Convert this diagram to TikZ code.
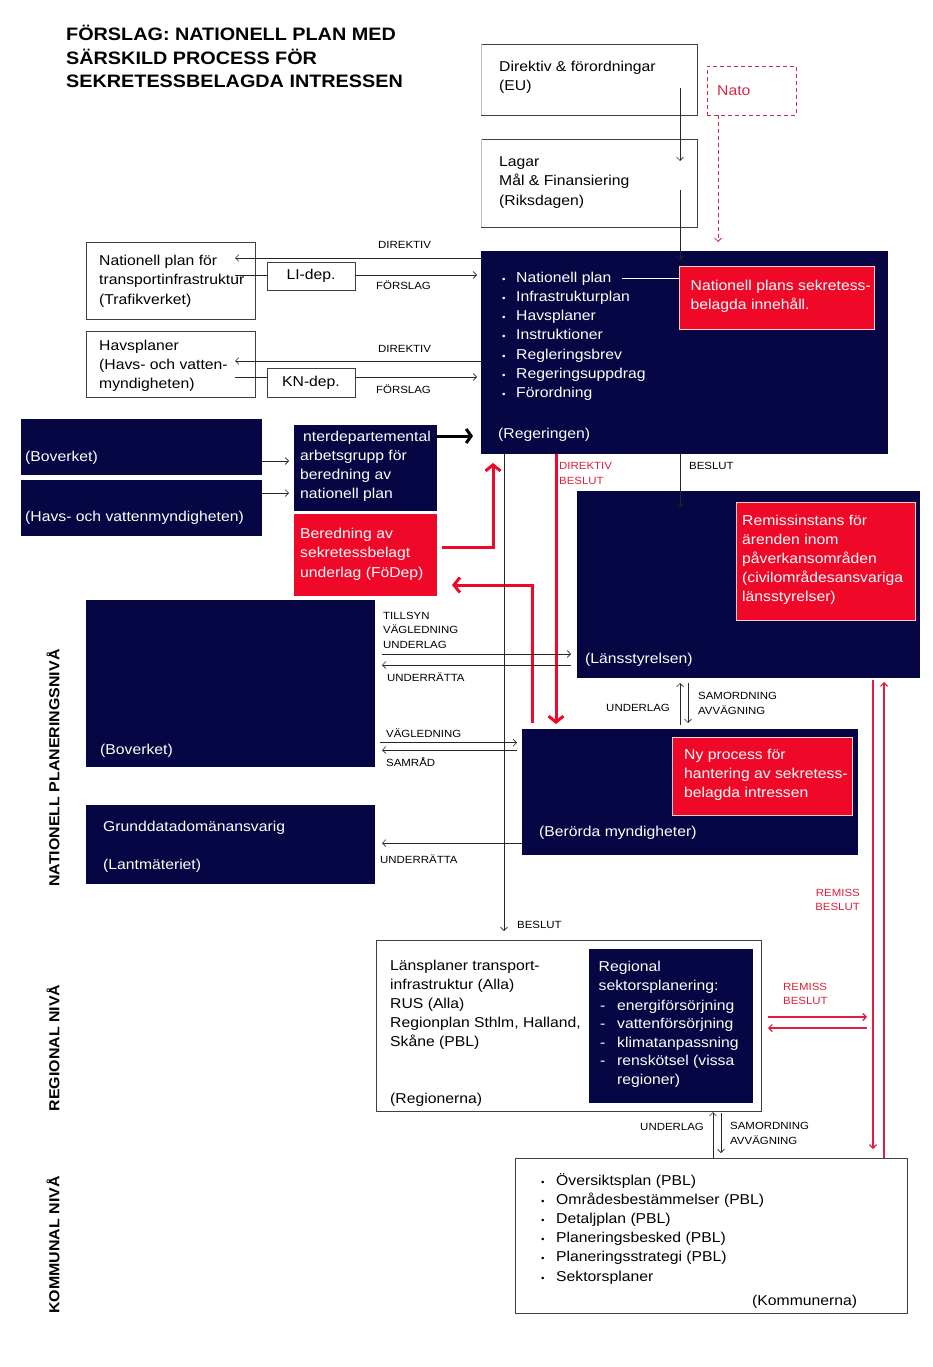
\documentclass[tikz,border=0pt]{standalone}
\usepackage{fontspec}
\setmainfont{Liberation Sans}[FakeStretch=1.1]
\usetikzlibrary{arrows.meta}

\definecolor{navy}{RGB}{6,6,68}
\definecolor{boxred}{RGB}{240,8,40}
\definecolor{linered}{RGB}{225,30,60}
\definecolor{natored}{RGB}{215,40,70}

\tikzset{
  box/.style={anchor=north west, inner sep=0pt, outer sep=0pt},
  navybox/.style={box, fill=navy},
  redbox/.style={box, fill=boxred, draw=red!20!white, line width=0.8pt},
  whitebox/.style={box, draw=black!75, line width=0.8pt},
  txt/.style={anchor=base west, inner sep=0pt, font=\fontsize{14.3}{19}\selectfont},
  wtxt/.style={txt, text=white},
  bul/.style={anchor=base west, inner sep=0pt, font=\fontsize{9}{10}\selectfont},
  lbl/.style={anchor=base west, inner sep=0pt, font=\fontsize{10.4}{12}\selectfont},
  rlbl/.style={lbl, text=linered},
  level/.style={rotate=90, inner sep=0pt, font=\bfseries\fontsize{14.5}{16}\selectfont},
  arr/.style={draw=black!85, line width=0.6pt, -{Straight Barb[length=3.5pt,width=7pt]}},
  thickarr/.style={draw=black, line width=3pt, -{Straight Barb[length=5pt,width=14pt]}},
  redarr/.style={draw=linered, line width=1.2pt, -{Straight Barb[length=3.5pt,width=7pt]}},
  redthick/.style={draw=boxred, line width=3pt, -{Straight Barb[length=6pt,width=15pt]}}
}

\begin{document}
\begin{tikzpicture}[x=1pt,y=-1pt]
\useasboundingbox (0,0) rectangle (932,1367);

% title and levels
\foreach \t [count=\i from 0] in {FÖRSLAG: NATIONELL PLAN MED, SÄRSKILD PROCESS FÖR, SEKRETESSBELAGDA INTRESSEN}
  \node[anchor=base west, inner sep=0pt, font=\bfseries\fontsize{18}{23}\selectfont] (title-\i) at (66,{41+23.5*\i}) {\t};
\node[level] (lev-nat) at (53,768) {NATIONELL PLANERINGSNIVÅ};
\node[level] (lev-reg) at (53,1048) {REGIONAL NIVÅ};
\node[level] (lev-kom) at (53,1245) {KOMMUNAL NIVÅ};

% EU, Nato, Riksdagen
\node[box, minimum width=216pt, minimum height=71pt] (eu) at (481,44) {};
\draw[black!75, line width=0.8pt] (eu.north west) -- (eu.north east) -- (eu.south east) -- (eu.south west);
\draw[black!25, line width=0.8pt] (eu.north west) -- (eu.south west);
\node[txt] (eu-1) at (499,71.5) {Direktiv \& förordningar};
\node[txt] (eu-2) at (499,91) {(EU)};

\node[box, draw=natored, dash pattern=on 4pt off 3pt, line width=0.8pt,
  minimum width=89pt, minimum height=49pt] (nato) at (707,66) {};
\node[txt, text=natored] (nato-t) at (717,95.5) {Nato};

\node[box, minimum width=216pt, minimum height=88pt] (riks) at (481,139) {};
\draw[black!75, line width=0.8pt] (riks.north west) -- (riks.north east) -- (riks.south east) -- (riks.south west);
\draw[black!25, line width=0.8pt] (riks.north west) -- (riks.south west);
\foreach \t [count=\i from 0] in {Lagar, Mål \& Finansiering, {(Riksdagen)}}
  \node[txt] (riks-\i) at (499,{166.5+19.3*\i}) {\t};

% Trafikverket and Havs- och vattenmyndigheten
\node[whitebox, minimum width=169pt, minimum height=77pt] (trv) at (86,242) {};
\foreach \t [count=\i from 0] in {Nationell plan för, transportinfrastruktur, {(Trafikverket)}}
  \node[txt] (trv-\i) at (99,{265.5+19.3*\i}) {\t};
\node[whitebox, fill=white, minimum width=88pt, minimum height=28pt, font=\fontsize{14.3}{19}\selectfont] (lidep) at (267,262) {LI-dep.};

\node[whitebox, minimum width=169pt, minimum height=66pt] (hav) at (86,331) {};
\foreach \t [count=\i from 0] in {Havsplaner, {(Havs- och vatten-}, {myndigheten)}}
  \node[txt] (hav-\i) at (99,{350+19.3*\i}) {\t};
\node[whitebox, fill=white, minimum width=88pt, minimum height=29pt, font=\fontsize{14.3}{19}\selectfont] (kndep) at (267,368) {KN-dep.};

% Regeringen
\node[navybox, minimum width=407pt, minimum height=203pt] (reg) at (481,251) {};
\foreach \t [count=\i from 0] in {Nationell plan, Infrastrukturplan, Havsplaner, Instruktioner, Regleringsbrev, Regeringsuppdrag, Förordning} {
  \node[bul, text=white] (regb-\i) at (502,{282.3+19.2*\i}) {\textbullet};
  \node[wtxt] (reg-\i) at (516,{282.3+19.2*\i}) {\t};
}
\node[wtxt] (reg-name) at (498,438) {(Regeringen)};
\node[redbox, minimum width=195pt, minimum height=63pt] (regred) at (679,266) {};
\node[wtxt] (regred-1) at (690.5,290) {Nationell plans sekretess-};
\node[wtxt] (regred-2) at (690.5,309) {belagda innehåll.};

% Boverket, HaV, arbetsgrupp
\node[navybox, minimum width=241pt, minimum height=56pt] (bov1) at (21,419) {};
\node[wtxt] (bov1-t) at (25,461) {(Boverket)};
\node[navybox, minimum width=241pt, minimum height=56pt] (hav2) at (21,480) {};
\node[wtxt] (hav2-t) at (25,521) {(Havs- och vattenmyndigheten)};

\node[navybox, minimum width=143pt, minimum height=86pt] (idep) at (294,425) {};
\node[wtxt] (idep-0) at (303,441) {nterdepartemental};
\foreach \t [count=\i from 1] in {arbetsgrupp för, beredning av, nationell plan}
  \node[wtxt] (idep-\i) at (300,{441+19.2*\i}) {\t};
\node[box, fill=boxred, minimum width=143pt, minimum height=82pt] (fodep) at (294,514) {};
\foreach \t [count=\i from 0] in {Beredning av, sekretessbelagt, {underlag (FöDep)}}
  \node[wtxt] (fodep-\i) at (300,{538+19.5*\i}) {\t};

% Länsstyrelsen
\node[navybox, minimum width=343pt, minimum height=187pt] (lst) at (577,491) {};
\node[redbox, minimum width=179pt, minimum height=118pt] (lstred) at (736,502) {};
\foreach \t [count=\i from 0] in {Remissinstans för, ärenden inom, påverkansområden, {(civilområdesansvariga}, {länsstyrelser)}}
  \node[wtxt] (lstred-\i) at (742,{525+19.2*\i}) {\t};
\node[wtxt] (lst-name) at (585,663) {(Länsstyrelsen)};

% Boverket, berörda myndigheter, Lantmäteriet
\node[navybox, minimum width=289pt, minimum height=167pt] (bov2) at (86,600) {};
\node[wtxt] (bov2-t) at (100,754) {(Boverket)};
\node[navybox, minimum width=336pt, minimum height=126pt] (ber) at (522,729) {};
\node[redbox, minimum width=180pt, minimum height=78pt] (berred) at (672,737) {};
\foreach \t [count=\i from 0] in {Ny process för, hantering av sekretess-, belagda intressen}
  \node[wtxt] (berred-\i) at (684,{759.3+19.2*\i}) {\t};
\node[wtxt] (ber-name) at (539,836.7) {(Berörda myndigheter)};
\node[navybox, minimum width=289pt, minimum height=79pt] (lm) at (86,805) {};
\node[wtxt] (lm-1) at (103,831) {Grunddatadomänansvarig};
\node[wtxt] (lm-2) at (103,869) {(Lantmäteriet)};

% Regionerna
\node[whitebox, minimum width=385pt, minimum height=171pt] (regn) at (376,940) {};
\foreach \t [count=\i from 0] in {Länsplaner transport-, infrastruktur (Alla), RUS (Alla), {Regionplan Sthlm, Halland,}, Skåne (PBL)}
  \node[txt] (regn-\i) at (390,{970+19.1*\i}) {\t};
\node[txt] (regn-name) at (390,1103) {(Regionerna)};
\node[navybox, minimum width=164pt, minimum height=154pt] (sekt) at (589,949) {};
\node[wtxt] (sekt-1) at (598.5,971.5) {Regional};
\node[wtxt] (sekt-2) at (598.5,990.5) {sektorsplanering:};
\foreach \t [count=\i from 0] in {energiförsörjning, vattenförsörjning, klimatanpassning, renskötsel (vissa} {
  \node[wtxt] (sektd-\i) at (600,{1010+18.5*\i}) {-};
  \node[wtxt] (sekt-\i) at (617,{1010+18.5*\i}) {\t};
}
\node[wtxt] (sekt-5) at (617,1084) {regioner)};

% Kommunerna
\node[whitebox, minimum width=392pt, minimum height=155pt] (kom) at (515,1158) {};
\foreach \t [count=\i from 0] in {Översiktsplan (PBL), Områdesbestämmelser (PBL), Detaljplan (PBL), Planeringsbesked (PBL), Planeringsstrategi (PBL), Sektorsplaner} {
  \node[bul] (komb-\i) at (541,{1185+19.2*\i}) {\textbullet};
  \node[txt] (kom-\i) at (556,{1185+19.2*\i}) {\t};
}
\node[txt] (kom-name) at (752,1305) {(Kommunerna)};

% arrows at the top
\coordinate (nato-end) at (718,242);
\draw[draw=natored, line width=0.8pt, dash pattern=on 4pt off 3pt, -{Straight Barb[length=3.5pt,width=7pt]}]
  (nato-end |- nato.south) -- (nato-end);
\coordinate (eu-out) at (680,88);
\coordinate (riks-in) at (680,161);
\draw[arr] (eu-out) -- (riks-in);
\coordinate (riks-out) at (680,190);
\draw[arr] (riks-out) -- ([yshift=-9pt]riks-out |- reg.north);
\coordinate (np-end) at (622,278);
\draw[white, line width=0.8pt] (np-end) -- (np-end -| regred.west);

% Regeringen to Trafikverket and HaV
\coordinate (trv-dir) at (235,258);
\coordinate (trv-fors) at (235,275);
\draw[arr] (trv-dir -| reg.west) -- (trv-dir);
\draw[black!85, line width=0.6pt] (trv-fors) -- (trv-fors -| lidep.west);
\draw[arr] (trv-fors -| lidep.east) -- ([xshift=-4pt]trv-fors -| reg.west);
\node[lbl] (dir-1) at (378,248) {DIREKTIV};
\node[lbl] (fors-1) at (376,289) {FÖRSLAG};

\coordinate (hav-dir) at (235,361);
\coordinate (hav-fors) at (235,377);
\draw[arr] (hav-dir -| reg.west) -- (hav-dir);
\draw[black!85, line width=0.6pt] (hav-fors) -- (hav-fors -| kndep.west);
\draw[arr] (hav-fors -| kndep.east) -- ([xshift=-4pt]hav-fors -| reg.west);
\node[lbl] (dir-2) at (378,352) {DIREKTIV};
\node[lbl] (fors-2) at (376,393) {FÖRSLAG};

% arbetsgrupp
\coordinate (idep-in1) at (289,461);
\coordinate (idep-in2) at (289,493);
\draw[arr] (idep-in1 -| bov1.east) -- (idep-in1);
\draw[arr] (idep-in2 -| hav2.east) -- (idep-in2);
\coordinate (idep-out) at (473,436);
\draw[thickarr] (idep-out -| idep.east) -- (idep-out);
\coordinate (fodep-turn) at (493,547);
\coordinate (fodep-tip) at (493,463);
\draw[redthick] ([xshift=5pt]fodep.east |- fodep-turn) -- (fodep-turn) -- (fodep-tip);
\coordinate (ber-turn) at (532,585);
\draw[redthick] ([yshift=6pt]ber-turn |- ber.north) -- (ber-turn) -- ([xshift=15pt]fodep.east |- ber-turn);
\coordinate (reg-dir) at (556,454);
\draw[redthick] (reg-dir) -- ([yshift=5pt]reg-dir |- ber.north);
\node[rlbl] (dir-3) at (559,469) {DIREKTIV};
\node[rlbl] (bes-3) at (559,484) {BESLUT};

% Regeringen to Länsstyrelsen and Regionerna
\coordinate (reg-down) at (504,454);
\draw[arr] (reg-down) -- ([yshift=9pt]reg-down |- regn.north);
\node[lbl] (bes-5) at (517,928.3) {BESLUT};
\coordinate (lst-in) at (680,507);
\draw[arr] (lst-in |- reg.south) -- (lst-in);
\node[lbl] (bes-4) at (689,469) {BESLUT};

% Boverket and Länsstyrelsen
\coordinate (bov-a) at (382,654);
\coordinate (lst-a) at (571,654);
\draw[arr] (bov-a) -- (lst-a);
\coordinate (bov-b) at (382,665);
\coordinate (lst-b) at (571,665);
\draw[arr] (lst-b) -- (bov-b);
\node[lbl] (lbl-t1) at (383,619) {TILLSYN};
\node[lbl] (lbl-t2) at (383,633.5) {VÄGLEDNING};
\node[lbl] (lbl-t3) at (383,648) {UNDERLAG};
\node[lbl] (lbl-u1) at (387,681) {UNDERRÄTTA};

% Länsstyrelsen and berörda myndigheter
\coordinate (lst-up) at (680,683);
\draw[arr] ([yshift=-42pt]lst-up) -- (lst-up);
\coordinate (ber-down) at (688,723);
\draw[arr] ([yshift=40pt]ber-down) -- (ber-down);
\node[lbl, anchor=base east] (lbl-ul1) at (670,711) {UNDERLAG};
\node[lbl] (lbl-s1) at (698,699.3) {SAMORDNING};
\node[lbl] (lbl-a1) at (698,714.3) {AVVÄGNING};

% Boverket and berörda myndigheter
\coordinate (bov-c) at (380,742.7);
\coordinate (ber-c) at (517,742.7);
\draw[arr] (bov-c) -- (ber-c);
\coordinate (bov-d) at (382,750);
\coordinate (ber-d) at (517,750);
\draw[arr] (ber-d) -- (bov-d);
\node[lbl] (lbl-v2) at (386,737.7) {VÄGLEDNING};
\node[lbl] (lbl-sr) at (386,766.5) {SAMRÅD};
\coordinate (lm-in) at (382,843);
\draw[arr] (lm-in -| ber.west) -- (lm-in);
\node[lbl] (lbl-u2) at (380,863.3) {UNDERRÄTTA};

% remiss to Kommunerna
\coordinate (kom-in) at (873,1149);
\draw[redarr] (kom-in |- lst.south) ++(0,2) -- (kom-in);
\coordinate (lst-back) at (884,682);
\draw[redarr] (lst-back |- kom.north) -- (lst-back);
\node[rlbl, anchor=base east] (rem-1) at (860,896.7) {REMISS};
\node[rlbl, anchor=base east] (bes-6) at (860,910.7) {BESLUT};

% remiss Regionerna
\coordinate (regn-r1) at (768,1017);
\coordinate (kom-r1) at (867,1017);
\draw[redarr] (regn-r1) -- (kom-r1);
\coordinate (regn-r2) at (768,1028);
\coordinate (kom-r2) at (867,1028);
\draw[redarr] (kom-r2) -- (regn-r2);
\node[rlbl] (rem-2) at (783,990) {REMISS};
\node[rlbl] (bes-7) at (783,1004) {BESLUT};

% Regionerna and Kommunerna
\coordinate (regn-up) at (713,1112);
\draw[arr] (regn-up |- kom.north) -- (regn-up);
\coordinate (kom-down) at (721,1153);
\draw[arr] ([yshift=40pt]kom-down) -- (kom-down);
\node[lbl, anchor=base east] (lbl-ul2) at (704,1130.7) {UNDERLAG};
\node[lbl] (lbl-s2) at (730,1129.3) {SAMORDNING};
\node[lbl] (lbl-a2) at (730,1144) {AVVÄGNING};
\end{tikzpicture}
\end{document}
